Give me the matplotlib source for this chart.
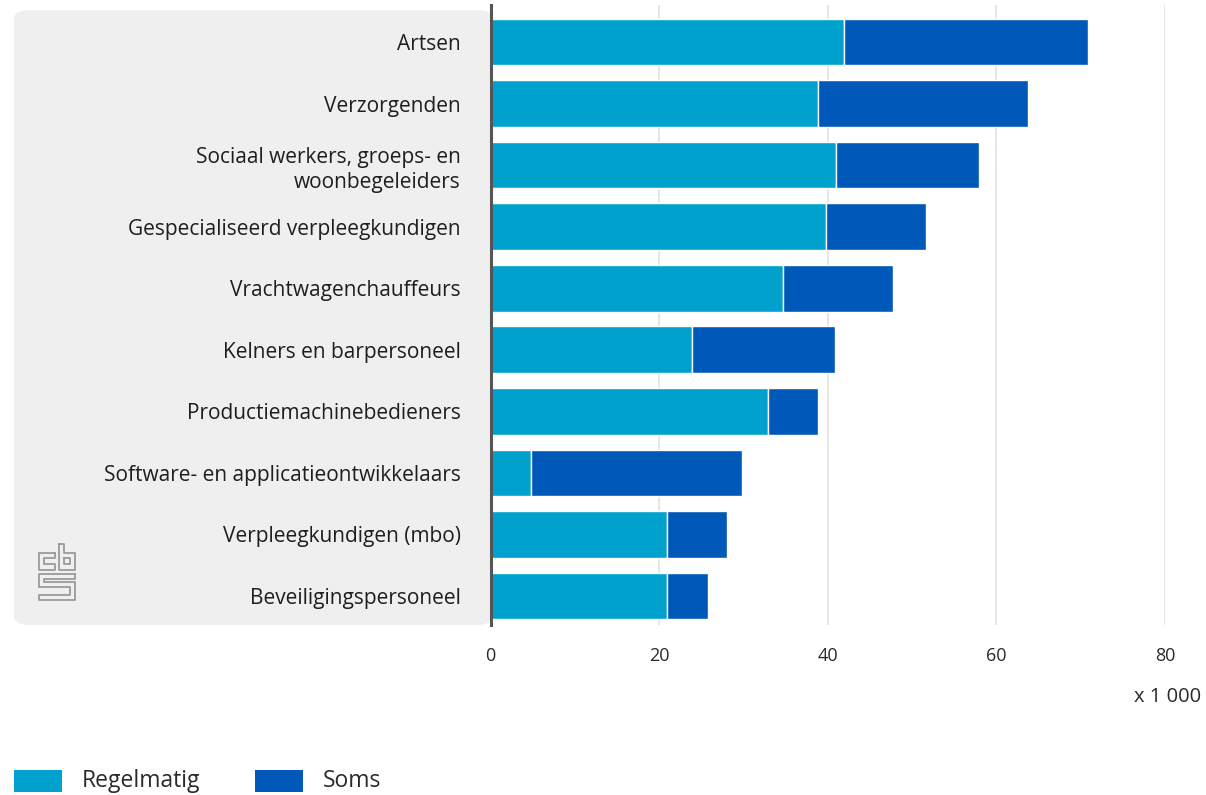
import matplotlib
matplotlib.use("Agg")
import matplotlib.pyplot as plt
from matplotlib.patches import FancyBboxPatch, Rectangle
import numpy as np

plt.rcParams['font.family'] = ['Open Sans', 'DejaVu Sans']

categories = [
    "Artsen",
    "Verzorgenden",
    "Sociaal werkers, groeps- en\nwoonbegeleiders",
    "Gespecialiseerd verpleegkundigen",
    "Vrachtwagenchauffeurs",
    "Kelners en barpersoneel",
    "Productiemachinebedieners",
    "Software- en applicatieontwikkelaars",
    "Verpleegkundigen (mbo)",
    "Beveiligingspersoneel",
]
regelmatig = [41.9, 38.8, 41.0, 39.8, 34.7, 23.9, 32.9, 4.8, 20.9, 20.9]
totaal = [70.9, 63.8, 57.9, 51.7, 47.7, 40.9, 38.8, 29.8, 28.0, 25.8]
soms = [t - r for t, r in zip(totaal, regelmatig)]
xticks = [0, 20, 40, 60, 80]
series_names = ["Regelmatig", "Soms"]
colors = ["#00a1cd", "#0058b8"]

W, H = 1206, 795
fig = plt.figure(figsize=(W / 100, H / 100), dpi=100)

# grey panel behind the category labels
panel = FancyBboxPatch((14 / W, 1 - 625 / H), (492 - 14) / W, (625 - 10) / H,
                       boxstyle="round,pad=0,rounding_size=0.012",
                       transform=fig.transFigure, facecolor="#efefef",
                       edgecolor="none", zorder=-10)
fig.patches.append(panel)

ax = fig.add_axes([490.5 / W, 1 - 625 / H, (1165 - 490.5) / W, (625 - 5) / H])
ax.set_facecolor("none")

y = np.arange(len(categories))
h = 0.76
ax.barh(y, regelmatig, height=h, color=colors[0], edgecolor="white", linewidth=1.0, zorder=3)
ax.barh(y, soms, left=regelmatig, height=h, color=colors[1], edgecolor="white", linewidth=1.0, zorder=3)

ax.set_xlim(0, 80)
ax.set_ylim(len(categories) - 0.53, -0.6)
ax.set_xticks(xticks)
ax.set_xticklabels([str(v) for v in xticks], fontsize=13, color="#2a2a2a")
ax.set_yticks(y)
ax.set_yticklabels(categories, fontsize=15, color="#1e1e1e", ha="right", linespacing=1.25)
ax.tick_params(axis="y", length=0, pad=21.5)
ax.tick_params(axis="x", length=0, pad=16)
for s in ["top", "right", "bottom"]:
    ax.spines[s].set_visible(False)
ax.spines["left"].set_color("#555555")
ax.spines["left"].set_linewidth(2.2)
ax.spines["left"].set_zorder(5)
ax.grid(axis="x", color="#e2e2e2", linewidth=1.2, zorder=0)
ax.set_axisbelow(True)

fig.text(1201 / W, 1 - 697 / H, "x 1 000", ha="right", va="center", fontsize=14.5, color="#2a2a2a")

# legend
for i, (name, c) in enumerate(zip(series_names, colors)):
    x0 = [14, 255][i]
    fig.patches.append(Rectangle((x0 / W, 1 - 792 / H), 48 / W, 22 / H,
                                 transform=fig.transFigure, facecolor=c, edgecolor="none"))
    fig.text((x0 + 68) / W, 1 - 781 / H, name, ha="left", va="center", fontsize=16.5, color="#2a2a2a")

# simplified CBS logo
lax = fig.add_axes([37 / W, 1 - 602 / H, 40 / W, 60 / H])
lax.set_zorder(2)
lax.set_xlim(0, 10)
lax.set_ylim(0, 14)
lax.axis("off")
lc = "#9a9a9a"
lw = 1.3
# c
lax.plot([4.5, 0.5, 0.5, 4.5, 4.5, 1.8, 1.8, 4.5, 4.5],
         [11.5, 11.5, 7.5, 7.5, 8.8, 8.8, 10.2, 10.2, 11.5], color=lc, lw=lw)
# b
lax.plot([5.5, 5.5, 9.5, 9.5, 6.8, 6.8, 5.5],
         [13.5, 7.5, 7.5, 11.5, 11.5, 13.5, 13.5], color=lc, lw=lw)
lax.plot([6.8, 8.2, 8.2, 6.8, 6.8], [10.2, 10.2, 8.8, 8.8, 10.2], color=lc, lw=lw)
# s
lax.plot([9.5, 0.5, 0.5, 8.2, 8.2, 0.5, 0.5, 9.5, 9.5, 1.8, 1.8, 9.5, 9.5],
         [6.5, 6.5, 3.5, 3.5, 1.7, 1.7, 0.5, 0.5, 4.7, 4.7, 5.3, 5.3, 6.5], color=lc, lw=lw)

fig.savefig("out.png", dpi=100)
